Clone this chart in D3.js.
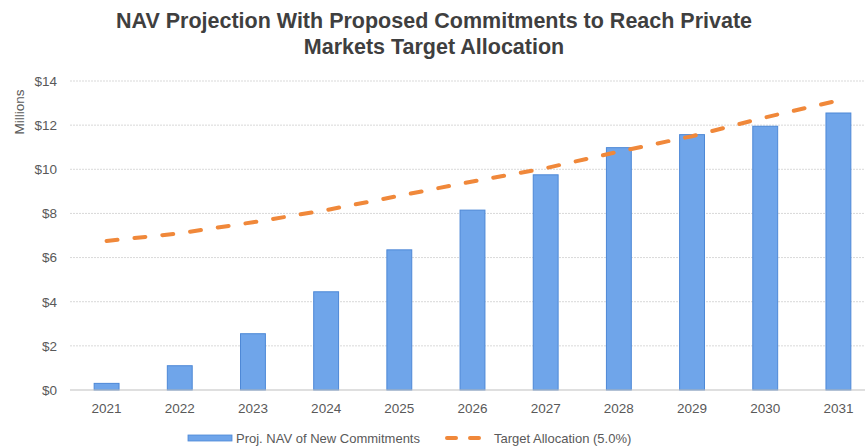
<!DOCTYPE html>
<html>
<head>
<meta charset="utf-8">
<script src="https://cdn.jsdelivr.net/npm/d3@7"></script>
<style>
  body { margin: 0; background: #fff; }
  svg { font-family: "Liberation Sans", Arial, sans-serif; }
  .title { font-size: 21.5px; font-weight: bold; fill: #3f3f3f; }
  .tick text { font-size: 13.5px; fill: #595959; }
  .legend text { font-size: 13px; fill: #595959; }
</style>
</head>
<body>
<div id="chart"></div>
<script>
// Data
const years = ["2021", "2022", "2023", "2024", "2025", "2026", "2027", "2028", "2029", "2030", "2031"];
const navValues = [0.3, 1.1, 2.55, 4.45, 6.35, 8.15, 9.75, 10.98, 11.57, 11.95, 12.55];
const targetValues = [6.75, 7.1, 7.6, 8.15, 8.8, 9.45, 10.05, 10.8, 11.5, 12.35, 13.12];
const yTicks = [0, 2, 4, 6, 8, 10, 12, 14];
const titleLines = [
  "NAV Projection With Proposed Commitments to Reach Private",
  "Markets Target Allocation",
];
const legendLabels = ["Proj. NAV of New Commitments", "Target Allocation (5.0%)"];

const width = 865;
const height = 448;
const margin = { top: 81, right: -10, bottom: 58, left: 70 };

const barColor = "#6fa5ea";
const barStroke = "#4d88d6";
const lineColor = "#f0883a";

const svg = d3
  .select("#chart")
  .append("svg")
  .attr("width", width)
  .attr("height", height);

// Scales
const x = d3
  .scaleBand()
  .domain(years)
  .range([margin.left, width - margin.right])
  .paddingInner(0.66)
  .paddingOuter(0.33);

const y = d3
  .scaleLinear()
  .domain([0, 14])
  .range([height - margin.bottom, margin.top]);

// Title
svg
  .append("g")
  .selectAll("text")
  .data(titleLines)
  .join("text")
  .attr("class", "title")
  .attr("x", 434)
  .attr("y", (d, i) => 28 + i * 26)
  .attr("text-anchor", "middle")
  .text((d) => d);

// Grid lines
svg
  .append("g")
  .attr("class", "grid")
  .selectAll("line")
  .data(yTicks.filter((d) => d > 0))
  .join("line")
  .attr("x1", margin.left)
  .attr("x2", width)
  .attr("y1", (d) => y(d))
  .attr("y2", (d) => y(d))
  .attr("stroke", "#d9d9d9")
  .attr("stroke-width", 1)
  .attr("stroke-dasharray", "2,1");

// Y axis
svg
  .append("g")
  .attr("transform", `translate(${margin.left},0)`)
  .call(
    d3
      .axisLeft(y)
      .tickValues(yTicks)
      .tickSize(0)
      .tickPadding(13)
      .tickFormat((d) => "$" + d)
  )
  .call((g) => g.select(".domain").remove());

// Y title
svg
  .append("text")
  .attr("transform", `translate(24,112) rotate(-90)`)
  .attr("text-anchor", "middle")
  .attr("font-size", 13.5)
  .attr("fill", "#595959")
  .text("Millions");

// Bars
svg
  .append("g")
  .selectAll("rect")
  .data(navValues)
  .join("rect")
  .attr("x", (d, i) => x(years[i]))
  .attr("y", (d) => y(d))
  .attr("width", x.bandwidth())
  .attr("height", (d) => y(0) - y(d))
  .attr("fill", barColor)
  .attr("stroke", barStroke)
  .attr("stroke-width", 1);

// X axis
svg
  .append("g")
  .attr("transform", `translate(0,${y(0)})`)
  .call(d3.axisBottom(x).tickSize(0).tickPadding(13))
  .call((g) => g.select(".domain").attr("stroke", "#bfbfbf").attr("d", `M${margin.left},0H${width}`));

// Target line
const line = d3
  .line()
  .x((d, i) => x(years[i]) + x.bandwidth() / 2)
  .y((d) => y(d));

svg
  .append("path")
  .datum(targetValues)
  .attr("fill", "none")
  .attr("stroke", lineColor)
  .attr("stroke-width", 4)
  .attr("stroke-linecap", "round")
  .attr("stroke-dasharray", "11,17")
  .attr("d", line);

// Legend
const legend = svg.append("g").attr("class", "legend");
legend
  .append("rect")
  .attr("x", 188)
  .attr("y", 435)
  .attr("width", 44)
  .attr("height", 6)
  .attr("fill", barColor)
  .attr("stroke", barStroke)
  .attr("stroke-width", 0.8);
legend
  .append("text")
  .attr("x", 236)
  .attr("y", 443)
  .text(legendLabels[0]);
legend
  .append("line")
  .attr("x1", 447)
  .attr("x2", 484)
  .attr("y1", 438)
  .attr("y2", 438)
  .attr("stroke", lineColor)
  .attr("stroke-width", 4)
  .attr("stroke-linecap", "round")
  .attr("stroke-dasharray", "9,14");
legend
  .append("text")
  .attr("x", 494)
  .attr("y", 443)
  .text(legendLabels[1]);
</script>
</body>
</html>
